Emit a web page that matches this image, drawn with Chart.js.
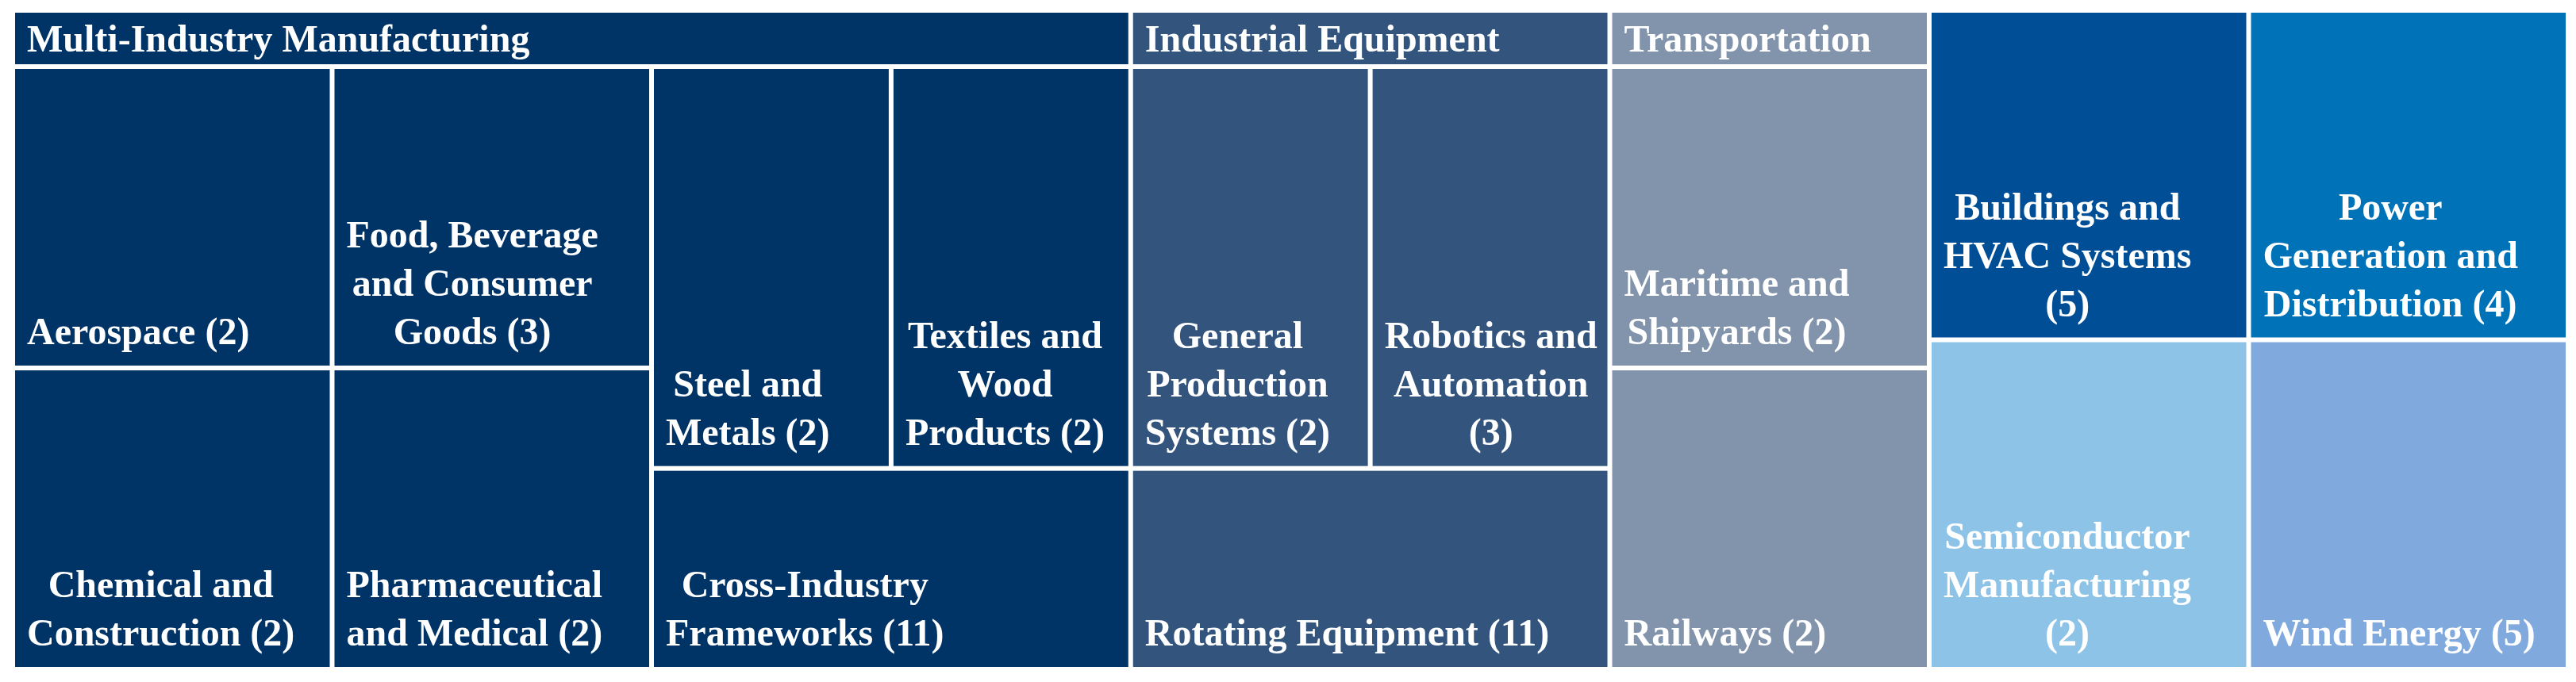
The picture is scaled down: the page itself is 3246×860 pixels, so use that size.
<!DOCTYPE html>
<html>
<head>
<meta charset="utf-8">
<title>Industry treemap</title>
<script src="https://cdn.jsdelivr.net/npm/chart.js@4.4.1/dist/chart.umd.min.js"></script>
<style>
  html, body { margin: 0; padding: 0; background: #ffffff; }
  canvas { display: block; }
</style>
</head>
<body>
<canvas id="treemapChart" width="3246" height="860"></canvas>
<script>
// Leaves of the treemap ('\n' = line break in the label)
const leafNames = [
  'Aerospace', 'Chemical and\nConstruction', 'Food, Beverage\nand Consumer\nGoods',
  'Pharmaceutical\nand Medical', 'Steel and\nMetals', 'Textiles and\nWood\nProducts',
  'Cross-Industry\nFrameworks',
  'General\nProduction\nSystems', 'Robotics and\nAutomation\n', 'Rotating Equipment',
  'Maritime and\nShipyards', 'Railways',
  'Buildings and\nHVAC Systems\n', 'Power\nGeneration and\nDistribution',
  'Semiconductor\nManufacturing\n', 'Wind Energy'
];
const leafCounts = [2, 2, 3, 2, 2, 2, 11, 2, 3, 11, 2, 2, 5, 4, 2, 5];
const leafParents = [
  'Multi-Industry Manufacturing', 'Multi-Industry Manufacturing', 'Multi-Industry Manufacturing',
  'Multi-Industry Manufacturing', 'Multi-Industry Manufacturing', 'Multi-Industry Manufacturing',
  'Multi-Industry Manufacturing',
  'Industrial Equipment', 'Industrial Equipment', 'Industrial Equipment',
  'Transportation', 'Transportation',
  null, null, null, null
];
// every tile has the same size in the picture
const leafSizes = [1, 1, 1, 1, 1, 1, 1, 1, 1, 1, 1, 1, 1, 1, 1, 1];

// colours of the top level tiles, in order of the tree
const topColors = ['#003366', '#33557d', '#8293ac', '#004f96', '#0072b7', '#8ec3e8', '#80a9dd'];

const FONT = 'bold 48px "Liberation Serif", "Times New Roman", serif';
const GAP = 3;          // half of the white line between tiles
const HEADER = 71;      // height of a group header band
const PAD_LEFT = 15;
const LINE_H = 61;
const BOTTOM_OFF = 27;

function leafLabel(i) {
  const name = leafNames[i];
  return name.endsWith('\n') ? name + '(' + leafCounts[i] + ')' : name + ' (' + leafCounts[i] + ')';
}

// build two level tree from the flat arrays
function buildTree() {
  const nodes = [];
  const groups = {};
  leafNames.forEach((n, i) => {
    const leaf = { label: leafLabel(i), size: leafSizes[i] };
    const p = leafParents[i];
    if (p) {
      if (!groups[p]) {
        groups[p] = { label: p, children: [], size: 0 };
        nodes.push(groups[p]);
      }
      groups[p].children.push(leaf);
      groups[p].size += leaf.size;
    } else {
      nodes.push(leaf);
    }
  });
  nodes.forEach((n, i) => n.color = topColors[i]);
  return nodes;
}

function worst(row, side) {
  let s = 0, mx = -Infinity, mn = Infinity;
  row.forEach(r => { s += r.area; mx = Math.max(mx, r.area); mn = Math.min(mn, r.area); });
  return Math.max(side * side * mx / (s * s), (s * s) / (side * side * mn));
}

// squarified layout
function squarify(items, rect) {
  const total = items.reduce((a, b) => a + b.size, 0);
  const k = rect.w * rect.h / total;
  let rest = items.slice().sort((a, b) => b.size - a.size).map(it => ({ node: it, area: it.size * k }));
  let r = Object.assign({}, rect);
  const out = [];
  while (rest.length) {
    const side = Math.min(r.w, r.h);
    let row = [rest[0]];
    let i = 1;
    while (i < rest.length) {
      const next = row.concat([rest[i]]);
      if (worst(next, side) <= worst(row, side)) { row = next; i++; } else break;
    }
    const rowArea = row.reduce((a, b) => a + b.area, 0);
    if (r.w >= r.h) {
      const sw = rowArea / r.h;
      let y = r.y;
      row.forEach(it => { const h = it.area / sw; out.push({ node: it.node, x: r.x, y: y, w: sw, h: h }); y += h; });
      r = { x: r.x + sw, y: r.y, w: r.w - sw, h: r.h };
    } else {
      const sh = rowArea / r.w;
      let x = r.x;
      row.forEach(it => { const w = it.area / sh; out.push({ node: it.node, x: x, y: r.y, w: w, h: sh }); x += w; });
      r = { x: r.x, y: r.y + sh, w: r.w, h: r.h - sh };
    }
    rest = rest.slice(row.length);
  }
  return out;
}

function fillTile(ctx, t, color) {
  ctx.fillStyle = color;
  ctx.fillRect(t.x + GAP, t.y + GAP, t.w - 2 * GAP, t.h - 2 * GAP);
}

function drawLeafLabel(ctx, t, label) {
  const lines = label.split('\n');
  const blockW = Math.max(...lines.map(l => ctx.measureText(l).width));
  const cx = t.x + GAP + PAD_LEFT + blockW / 2;
  const base = t.y + t.h - GAP - BOTTOM_OFF;
  ctx.textAlign = 'center';
  lines.forEach((l, i) => {
    ctx.fillText(l, cx, base - (lines.length - 1 - i) * LINE_H);
  });
}

const treemapPlugin = {
  id: 'treemapTiles',
  afterDatasetsDraw(chart) {
    const ctx = chart.ctx;
    const xs = chart.scales.x, ys = chart.scales.y;
    const frame = {
      x: xs.getPixelForValue(0),
      y: ys.getPixelForValue(1),
      w: xs.getPixelForValue(1) - xs.getPixelForValue(0),
      h: ys.getPixelForValue(0) - ys.getPixelForValue(1)
    };
    const tree = buildTree();
    ctx.save();
    ctx.font = FONT;
    ctx.textBaseline = 'alphabetic';
    squarify(tree, frame).forEach(top => {
      const n = top.node;
      if (n.children) {
        const head = { x: top.x, y: top.y, w: top.w, h: HEADER };
        fillTile(ctx, head, n.color);
        ctx.fillStyle = '#ffffff';
        ctx.textAlign = 'left';
        ctx.fillText(n.label, top.x + GAP + PAD_LEFT, top.y + GAP + 49);
        const inner = { x: top.x, y: top.y + HEADER, w: top.w, h: top.h - HEADER };
        squarify(n.children, inner).forEach(t => {
          fillTile(ctx, t, n.color);
          ctx.fillStyle = '#ffffff';
          drawLeafLabel(ctx, t, t.node.label);
        });
      } else {
        fillTile(ctx, top, n.color);
        ctx.fillStyle = '#ffffff';
        drawLeafLabel(ctx, top, n.label);
      }
    });
    ctx.restore();
  }
};

new Chart(document.getElementById('treemapChart'), {
  type: 'scatter',
  data: { datasets: [{ label: 'tiles', data: [] }] },
  options: {
    responsive: false,
    animation: false,
    layout: { padding: { left: 16, right: 10, top: 13, bottom: 16 } },
    scales: {
      x: { type: 'linear', min: 0, max: 1, display: false },
      y: { type: 'linear', min: 0, max: 1, display: false }
    },
    plugins: { legend: { display: false }, tooltip: { enabled: false } }
  },
  plugins: [treemapPlugin]
});
</script>
</body>
</html>
